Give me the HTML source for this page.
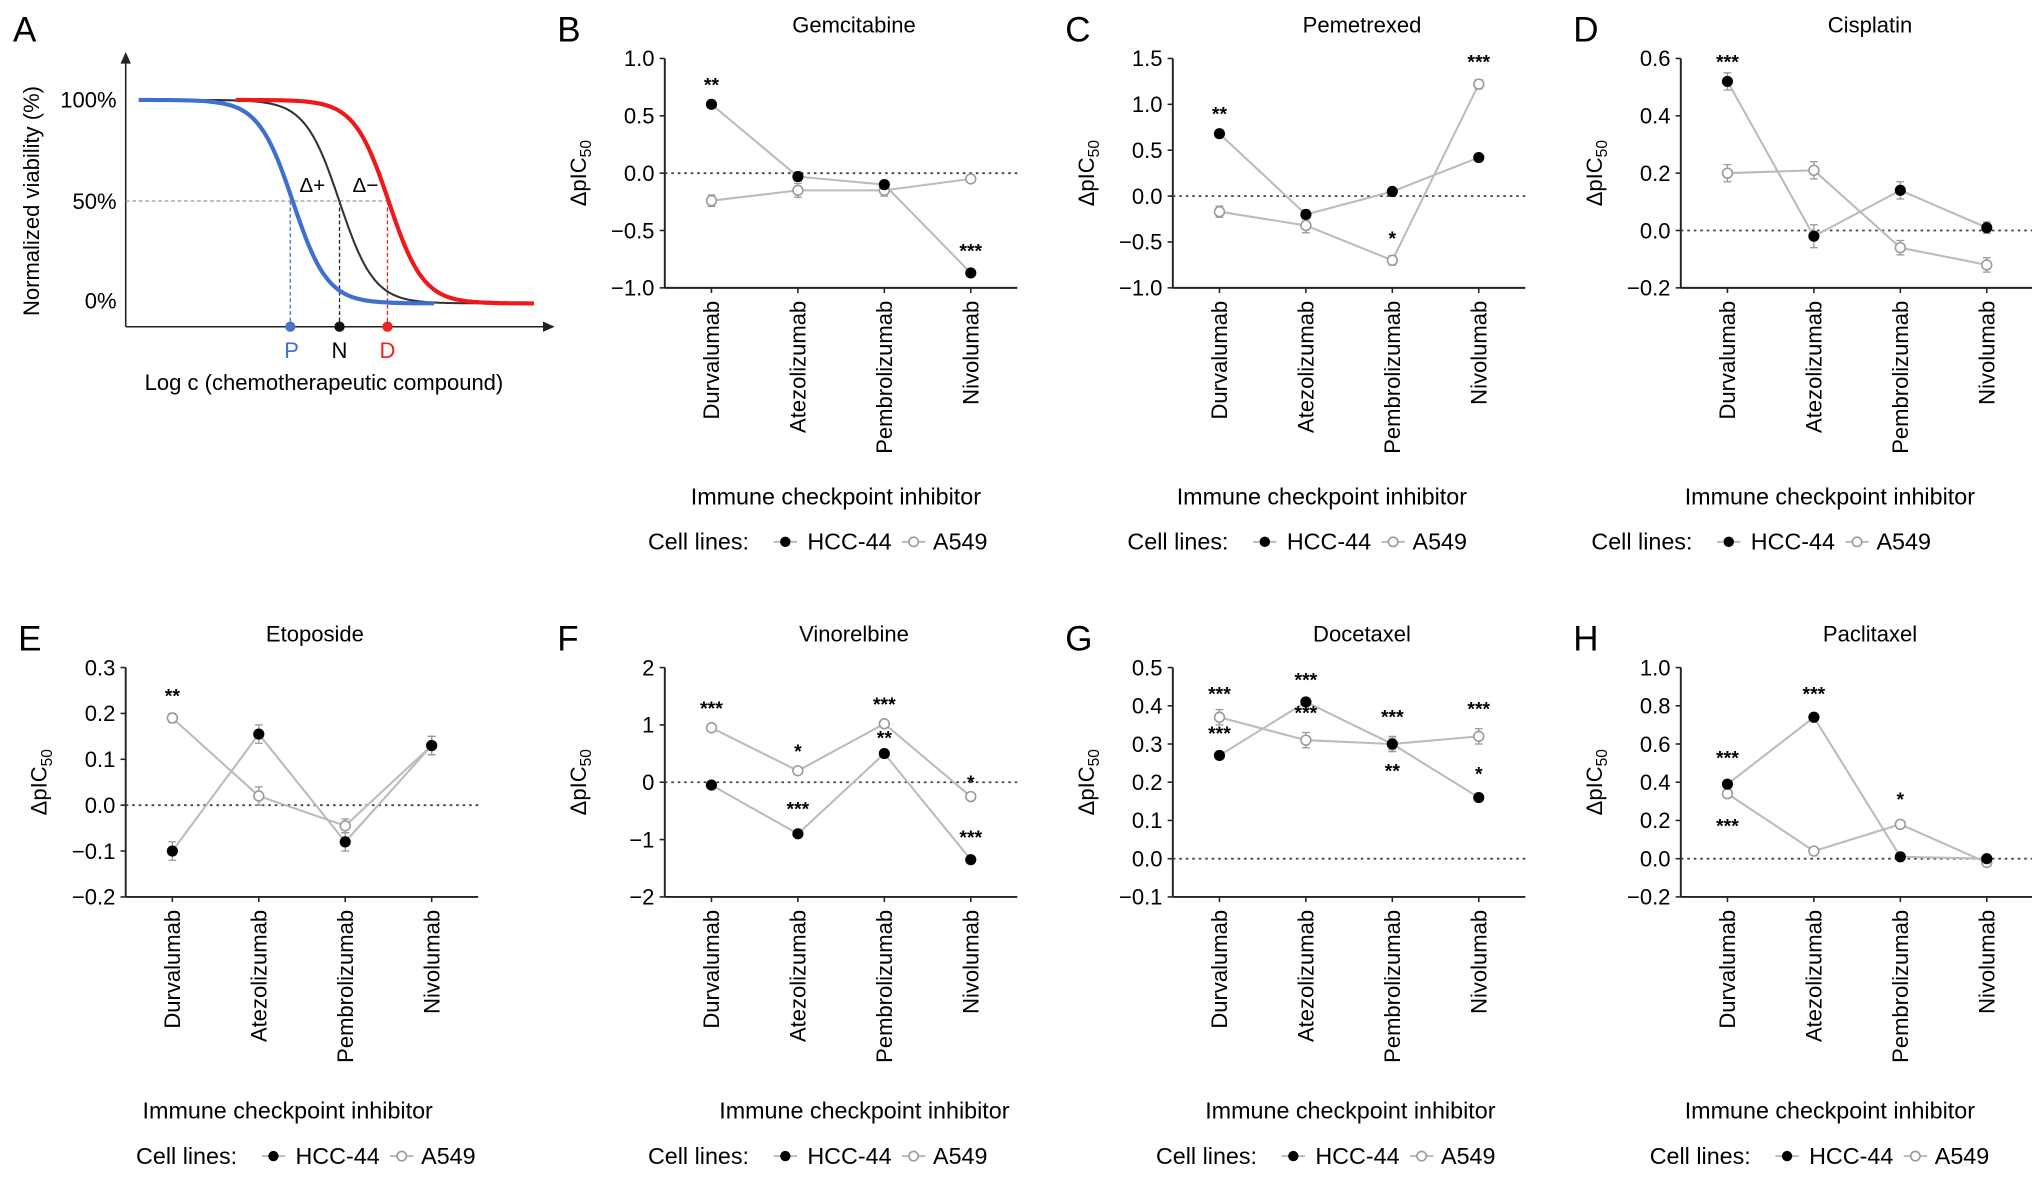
<!DOCTYPE html>
<html><head><meta charset="utf-8"><style>
html,body{margin:0;padding:0;background:#fff;}
svg{display:block;font-family:"Liberation Sans",Arial,sans-serif;}
</style></head><body>
<svg id="fig" width="2032" height="1177" viewBox="0 0 1568 908" xmlns="http://www.w3.org/2000/svg">
<g id="panelA">
<text x="10" y="32" font-size="27">A</text>
<line x1="97" y1="252" x2="97" y2="48" stroke="#222" stroke-width="1.2"/>
<polygon points="97,40 93,49 101,49" fill="#222"/>
<line x1="97" y1="252" x2="420" y2="252" stroke="#222" stroke-width="1.2"/>
<polygon points="428,252 419,248 419,256" fill="#222"/>
<text x="90" y="83" font-size="17" text-anchor="end">100%</text>
<text x="90" y="161" font-size="17" text-anchor="end">50%</text>
<text x="90" y="238" font-size="17" text-anchor="end">0%</text>
<text transform="translate(30,155) rotate(-90)" font-size="17" text-anchor="middle">Normalized viability (%)</text>
<line x1="97" y1="155" x2="300" y2="155" stroke="#999" stroke-width="1" stroke-dasharray="3,2"/>
<line x1="224" y1="155" x2="224" y2="252" stroke="#4a74c9" stroke-width="1" stroke-dasharray="3,2"/>
<line x1="262" y1="155" x2="262" y2="252" stroke="#222" stroke-width="1" stroke-dasharray="3,2"/>
<line x1="299" y1="155" x2="299" y2="252" stroke="#e22" stroke-width="1" stroke-dasharray="3,2"/>
<path id="curveN" fill="none" stroke="#333" stroke-width="1.6"/>
<path id="curveD" fill="none" stroke="#f01818" stroke-width="3.2"/>
<path id="curveP" fill="none" stroke="#3f6fcf" stroke-width="3.2"/>
<circle cx="224" cy="252" r="4" fill="#4a74c9"/>
<circle cx="262" cy="252" r="4" fill="#111"/>
<circle cx="299" cy="252" r="4" fill="#e22"/>
<text x="225" y="276" font-size="17" fill="#3f6fcf" text-anchor="middle">P</text>
<text x="262" y="276" font-size="17" text-anchor="middle">N</text>
<text x="299" y="276" font-size="17" fill="#e22" text-anchor="middle">D</text>
<text x="241" y="148" font-size="16" text-anchor="middle">Δ+</text>
<text x="282" y="148" font-size="16" text-anchor="middle">Δ−</text>
<text x="250" y="301" font-size="17" text-anchor="middle">Log c (chemotherapeutic compound)</text>
</g>
</svg>
<script>
const NS="http://www.w3.org/2000/svg";
const svg=document.getElementById('fig');
function curve(id,c,x0,x1){let d='';for(let x=x0;x<=x1;x+=2){const y=77+157/(1+Math.exp(-(x-c)*0.075));d+=(x===x0?'M':'L')+x+','+y.toFixed(1);}document.getElementById(id).setAttribute('d',d);}
curve('curveP',226,107,335);curve('curveN',262,145,373);curve('curveD',300,182,413);

const cats=["Durvalumab","Atezolizumab","Pembrolizumab","Nivolumab"];
const gemHCC=[0.6,-0.03,-0.1,-0.87], gemA549=[-0.24,-0.15,-0.15,-0.05];
const pemHCC=[0.68,-0.2,0.05,0.42], pemA549=[-0.17,-0.32,-0.7,1.22];
const cisHCC=[0.52,-0.02,0.14,0.01], cisA549=[0.2,0.21,-0.06,-0.12];
const etoHCC=[-0.1,0.155,-0.08,0.13], etoA549=[0.19,0.02,-0.045,0.13];
const vinHCC=[-0.05,-0.9,0.5,-1.35], vinA549=[0.95,0.2,1.02,-0.25];
const docHCC=[0.27,0.41,0.30,0.16], docA549=[0.37,0.31,0.30,0.32];
const pacHCC=[0.39,0.74,0.01,0.0], pacA549=[0.34,0.04,0.18,-0.02];
const gemErr=[0.03,0.04,0.03,0.03], gemErrA=[0.05,0.06,0.05,0.03];
const pemErr=[0.04,0.05,0.03,0.03], pemErrA=[0.06,0.08,0.05,0.05];
const cisErr=[0.03,0.04,0.03,0.02], cisErrA=[0.03,0.03,0.025,0.025];
const etoErr=[0.02,0.02,0.02,0.02], etoErrA=[0.01,0.02,0.015,0.02];
const vinErr=[0.05,0.05,0.05,0.05], vinErrA=[0.05,0.05,0.06,0.05];
const docErr=[0.01,0.01,0.015,0.01], docErrA=[0.02,0.02,0.02,0.02];
const pacErr=[0.02,0.01,0.01,0.01], pacErrA=[0.02,0.015,0.02,0.01];
const gemTicks=[1.0,0.5,0.0,-0.5,-1.0], pemTicks=[1.5,1.0,0.5,0.0,-0.5,-1.0], cisTicks=[0.6,0.4,0.2,0.0,-0.2];
const etoTicks=[0.3,0.2,0.1,0.0,-0.1,-0.2], vinTicks=[2,1,0,-1,-2], docTicks=[0.5,0.4,0.3,0.2,0.1,0.0,-0.1], pacTicks=[1.0,0.8,0.6,0.4,0.2,0.0,-0.2];
const gemStars=[[0,0.6,'**',-10],[3,-0.87,'***',-12]];
const pemStars=[[0,0.68,'**',-10],[2,-0.7,'*',-12],[3,1.22,'***',-12]];
const cisStars=[[0,0.52,'***',-10]];
const etoStars=[[0,0.19,'**',-12]];
const vinStars=[[0,0.95,'***',-10],[1,0.2,'*',-10],[1,-0.9,'***',-14],[2,1.02,'***',-10],[2,0.5,'**',-7],[3,-0.25,'*',-6],[3,-1.35,'***',-12]];
const docStars=[[0,0.37,'***',-13],[0,0.27,'***',-12],[1,0.41,'***',-12],[1,0.31,'***',-16],[2,0.30,'***',-16],[2,0.30,'**',26],[3,0.32,'***',-16],[3,0.16,'*',-13]];
const pacStars=[[0,0.39,'***',-15],[0,0.34,'***',30],[1,0.74,'***',-13],[2,0.18,'*',-14]];

function el(tag,attrs,parent){const e=document.createElementNS(NS,tag);for(const k in attrs)e.setAttribute(k,attrs[k]);(parent||svg).appendChild(e);return e;}
function txt(s,attrs,parent){const e=el('text',attrs,parent);e.textContent=s;return e;}
function fmt(v,dec){let s=v.toFixed(dec);if(v<0)s='\u2212'+(-v).toFixed(dec);return s;}

function panel(o){
  const g=el('g',{});
  
  
  const top=o.top, bot=o.top+177, ax=o.ax, right=ax+272;
  const vmax=o.ticks[0], vmin=o.ticks[o.ticks.length-1];
  const Y=v=>top+(vmax-v)/(vmax-vmin)*(bot-top);
  const X=i=>ax+36+i*66.7;
  const L=txt(o.letter,{x:ax-83,y:top-13,'font-size':27},g);
  
  
  const T=txt(o.title,{x:ax+146,y:top-20,'font-size':17,'text-anchor':'middle'},g);
  
  
  const ya=el('line',{x1:ax,y1:top,x2:ax,y2:bot,stroke:'#222','stroke-width':1.5},g);
  
  
  const xa=el('line',{x1:ax,y1:bot,x2:right,y2:bot,stroke:'#222','stroke-width':1.5},g);
  
  
  o.ticks.forEach(t=>{
    el('line',{x1:ax-4,y1:Y(t),x2:ax,y2:Y(t),stroke:'#222','stroke-width':1.2},g);
    const tl=txt(fmt(t,o.dec),{x:ax-8,y:Y(t)+6,'font-size':17,'text-anchor':'end'},g);
    
    
  });
  const z=el('line',{x1:ax,y1:Y(0),x2:right,y2:Y(0),stroke:'#444','stroke-width':1.4,'stroke-dasharray':'2,3'},g);
  
  
  const yt=el('text',{transform:`translate(${ax-61},${(top+bot)/2}) rotate(-90)`,'font-size':17,'text-anchor':'middle'},g);
  yt.innerHTML='ΔpIC<tspan font-size="12" dy="4">50</tspan>';
  
  
  cats.forEach((c,i)=>{
    el('line',{x1:X(i),y1:bot,x2:X(i),y2:bot+4,stroke:'#222','stroke-width':1.2},g);
    const cl=txt(c,{transform:`translate(${X(i)+6},${bot+10}) rotate(-90)`,'font-size':17,'text-anchor':'end'},g);
    
    
  });
  const series=[[o.hcc,o.herr,'hcc-44'],[o.a549,o.aerr,'a549']];
  series.forEach(([vals,err,nm])=>{
    const p=el('polyline',{points:vals.map((v,i)=>X(i)+','+Y(v)).join(' '),fill:'none',stroke:'#bbb','stroke-width':1.6},g);
    
    
  });
  series.slice().reverse().forEach(([vals,err,nm])=>{
    vals.forEach((v,i)=>{
      const e1=Y(v+err[i]),e2=Y(v-err[i]);
      el('line',{x1:X(i),y1:e1,x2:X(i),y2:e2,stroke:'#999','stroke-width':1},g);
      el('line',{x1:X(i)-3,y1:e1,x2:X(i)+3,y2:e1,stroke:'#999','stroke-width':1},g);
      el('line',{x1:X(i)-3,y1:e2,x2:X(i)+3,y2:e2,stroke:'#999','stroke-width':1},g);
      const c=nm==='a549'?el('circle',{cx:X(i),cy:Y(v),r:3.8,fill:'#fff',stroke:'#999','stroke-width':1.2},g)
                          :el('circle',{cx:X(i),cy:Y(v),r:4.3,fill:'#000'},g);
      
      
    });
  });
  o.stars.forEach(s=>{
    const st=txt(s[2],{x:X(s[0]),y:Y(s[1])+s[3],'font-size':15,'text-anchor':'middle','font-weight':'bold'},g);
    
    
  });
  const xt=txt('Immune checkpoint inhibitor',{x:o.xtx,y:o.xty,'font-size':18,'text-anchor':'middle'},g);
  
  
  const lg=el('g',{},g);
  
  
  const lx=o.lx, ly=o.xty+29;
  txt('Cell lines:',{x:lx,y:ly+6,'font-size':18},lg);
  el('line',{x1:lx+97,y1:ly,x2:lx+115,y2:ly,stroke:'#bbb','stroke-width':1.5},lg);
  el('circle',{cx:lx+106,cy:ly,r:4,fill:'#000'},lg);
  txt('HCC-44',{x:lx+123,y:ly+6,'font-size':18},lg);
  el('line',{x1:lx+196,y1:ly,x2:lx+214,y2:ly,stroke:'#bbb','stroke-width':1.5},lg);
  el('circle',{cx:lx+205,cy:ly,r:3.6,fill:'#fff',stroke:'#999','stroke-width':1.2},lg);
  txt('A549',{x:lx+220,y:ly+6,'font-size':18},lg);
}
panel({letter:'B',title:'Gemcitabine',ax:513,top:45,ticks:gemTicks,dec:1,hcc:gemHCC,a549:gemA549,herr:gemErr,aerr:gemErrA,stars:gemStars,xtx:645,xty:389,lx:500});
panel({letter:'C',title:'Pemetrexed',ax:905,top:45,ticks:pemTicks,dec:1,hcc:pemHCC,a549:pemA549,herr:pemErr,aerr:pemErrA,stars:pemStars,xtx:1020,xty:389,lx:870});
panel({letter:'D',title:'Cisplatin',ax:1297,top:45,ticks:cisTicks,dec:1,hcc:cisHCC,a549:cisA549,herr:cisErr,aerr:cisErrA,stars:cisStars,xtx:1412,xty:389,lx:1228});
panel({letter:'E',title:'Etoposide',ax:97,top:515,ticks:etoTicks,dec:1,hcc:etoHCC,a549:etoA549,herr:etoErr,aerr:etoErrA,stars:etoStars,xtx:222,xty:863,lx:105});
panel({letter:'F',title:'Vinorelbine',ax:513,top:515,ticks:vinTicks,dec:0,hcc:vinHCC,a549:vinA549,herr:vinErr,aerr:vinErrA,stars:vinStars,xtx:667,xty:863,lx:500});
panel({letter:'G',title:'Docetaxel',ax:905,top:515,ticks:docTicks,dec:1,hcc:docHCC,a549:docA549,herr:docErr,aerr:docErrA,stars:docStars,xtx:1042,xty:863,lx:892});
panel({letter:'H',title:'Paclitaxel',ax:1297,top:515,ticks:pacTicks,dec:1,hcc:pacHCC,a549:pacA549,herr:pacErr,aerr:pacErrA,stars:pacStars,xtx:1412,xty:863,lx:1273});
</script>
</body></html>
